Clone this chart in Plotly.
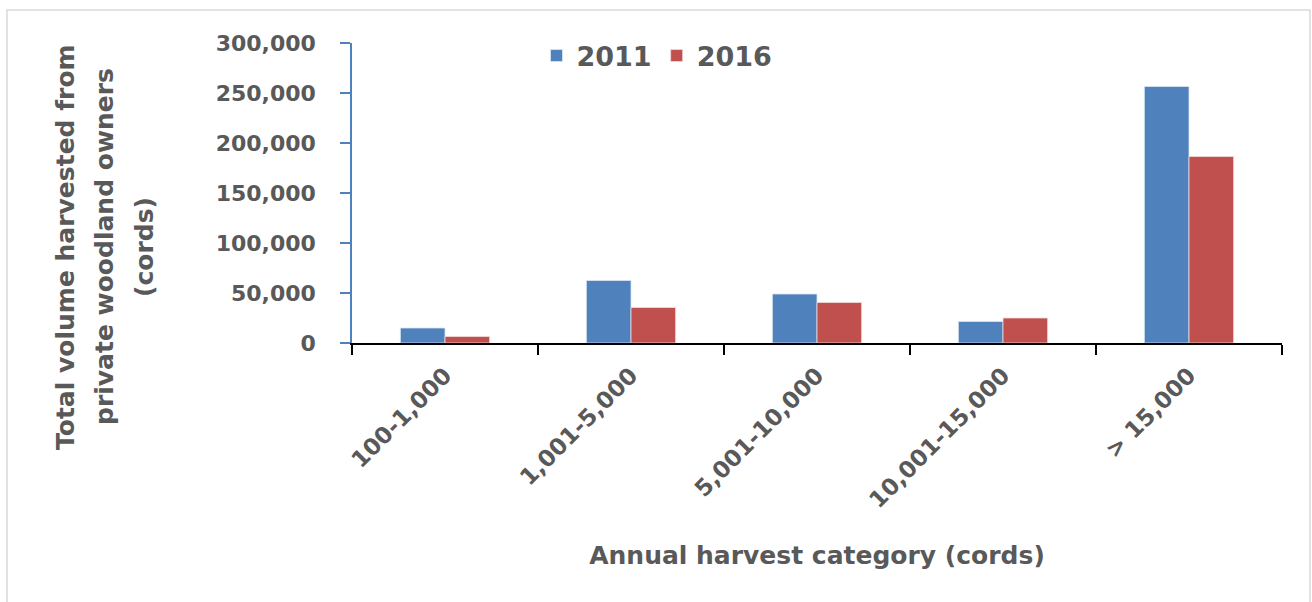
import plotly.graph_objects as go

categories = ["100-1,000", "1,001-5,000", "5,001-10,000", "10,001-15,000", "> 15,000"]
values_2011 = [15000, 62500, 49000, 21500, 256500]
values_2016 = [6500, 35500, 40500, 25000, 186500]
y_ticks = [0, 50000, 100000, 150000, 200000, 250000, 300000]
y_title_lines = ["Total volume harvested from", "private woodland owners", "(cords)"]

TXT = "#595959"
FONT = "DejaVu Sans"
BLUE = "#4F81BD"
RED = "#C0504D"

fig = go.Figure()
fig.add_trace(go.Bar(name="2011", x=categories, y=values_2011,
                     marker=dict(color=BLUE, line=dict(color="#dce6f2", width=0.8))))
fig.add_trace(go.Bar(name="2016", x=categories, y=values_2016,
                     marker=dict(color=RED, line=dict(color="#f2dcdb", width=0.8))))

L, R, T, B = 352, 30, 43, 259
W, H = 1312, 602
pw, ph = W - L - R, H - T - B

def px_x(p):
    return (p - L) / pw

def px_y(p):
    return (H - B - p) / ph

annotations = []
for line, xc in zip(y_title_lines, [66, 105, 145]):
    annotations.append(dict(text=line, xref="paper", yref="paper", x=px_x(xc), y=px_y(247),
                            xanchor="center", yanchor="middle", textangle=-90, showarrow=False,
                            font=dict(family=FONT, size=25, color=TXT, weight="bold")))

fig.update_layout(
    width=W, height=H,
    margin=dict(l=L, r=R, t=T, b=B, autoexpand=False),
    plot_bgcolor="white", paper_bgcolor="white",
    barmode="group", bargap=0.52, bargroupgap=0,
    font=dict(family=FONT, color=TXT),
    legend=dict(orientation="h", x=px_x(657), y=px_y(56), xanchor="center", yanchor="middle",
                font=dict(family=FONT, size=27, color=TXT, weight="bold"),
                itemwidth=30, tracegroupgap=0, bgcolor="rgba(0,0,0,0)"),
    xaxis=dict(
        showline=True, linecolor="black", linewidth=2,
        ticks="outside", tickson="boundaries", ticklen=10, tickcolor="black", tickwidth=2,
        tickangle=-45, ticklabelstandoff=8,
        tickfont=dict(family=FONT, size=23, color=TXT, weight="bold"),
        title=dict(text="Annual harvest category (cords)", standoff=34,
                   font=dict(family=FONT, size=25, color=TXT, weight="bold")),
        showgrid=False,
    ),
    yaxis=dict(
        range=[0, 300000], tickvals=y_ticks, tickformat=",",
        showline=True, linecolor=BLUE, linewidth=1.5,
        ticks="outside", ticklen=10, tickcolor=BLUE, tickwidth=1.5, ticklabelstandoff=20,
        tickfont=dict(family=FONT, size=22, color=TXT, weight="bold"),
        showgrid=False, zeroline=False,
    ),
    shapes=[dict(type="rect", xref="paper", yref="paper",
                 x0=px_x(7), x1=px_x(1310), y0=px_y(606), y1=px_y(10),
                 line=dict(color="#d9d9d9", width=1.5), fillcolor="rgba(0,0,0,0)", layer="below")],
    annotations=annotations,
)

fig.write_html("out.html")
